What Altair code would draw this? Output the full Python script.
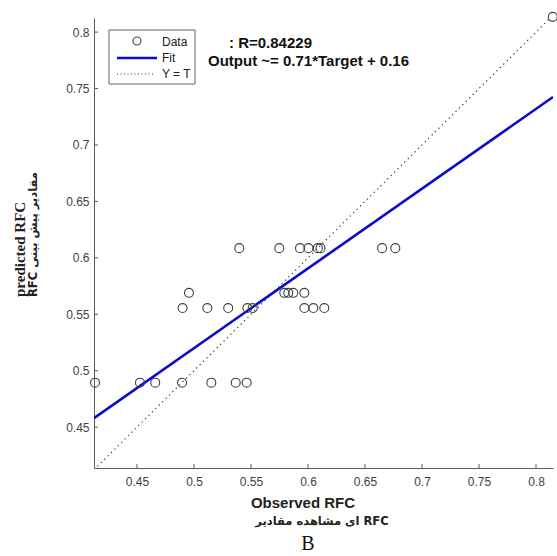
import altair as alt
import pandas as pd

# ---- data ----
observed = [0.5397, 0.5748, 0.5930, 0.6004, 0.6086, 0.6110, 0.6650, 0.6766,
            0.4956, 0.5792, 0.5827, 0.5871, 0.5968,
            0.4900, 0.5117, 0.5300, 0.5468, 0.5515, 0.5968, 0.6047, 0.6143,
            0.4132, 0.4526, 0.4660, 0.4895, 0.5152, 0.5366, 0.5462,
            0.8147]
predicted = [0.6086, 0.6086, 0.6086, 0.6086, 0.6086, 0.6086, 0.6086, 0.6086,
             0.5690, 0.5690, 0.5690, 0.5690, 0.5690,
             0.5555, 0.5555, 0.5555, 0.5555, 0.5555, 0.5555, 0.5555, 0.5555,
             0.4894, 0.4894, 0.4894, 0.4894, 0.4894, 0.4894, 0.4894,
             0.8135]
fit_x = [0.4123, 0.8149]
fit_y = [0.4580, 0.7425]
ident_x = [0.4123, 0.8149]
ident_y = [0.4123, 0.8149]
x_ticks = [0.45, 0.5, 0.55, 0.6, 0.65, 0.7, 0.75, 0.8]
y_ticks = [0.45, 0.5, 0.55, 0.6, 0.65, 0.7, 0.75, 0.8]
x_domain = [0.4123, 0.8149]
y_domain = [0.4138, 0.8125]
legend_labels = ["Data", "Fit", "Y = T"]
r_text = ": R=0.84229"
eq_text = "Output ~= 0.71*Target + 0.16"
x_title = "Observed RFC"
x_title_fa = "ای مشاهده مقادیر RFC"
y_title = "predicted RFC"
y_title_fa = "RFC مقادیر پیش بینی"
panel_label = "B"

W, H = 459, 450
FONT = "Liberation Sans"
AX = "#5a5a5a"
BLUE = "#0a0ac8"
PT = "#404040"

pts = pd.DataFrame({"x": observed, "y": predicted})
fit = pd.DataFrame({"x": fit_x, "y": fit_y})
ident = pd.DataFrame({"x": ident_x, "y": ident_y})
xt = pd.DataFrame({"x": x_ticks})
yt = pd.DataFrame({"y": y_ticks})
one = pd.DataFrame({"k": [0]})

xs = alt.Scale(domain=x_domain, nice=False, zero=False)
ys = alt.Scale(domain=y_domain, nice=False, zero=False)

x_axis = alt.Axis(values=x_ticks, format=".2~f", title=None, grid=False, ticks=False,
                  domainColor=AX, domainWidth=1, labelColor=PT, labelFont=FONT,
                  labelFontSize=12, labelPadding=8)
y_axis = alt.Axis(values=y_ticks, format=".2~f", title=None, grid=False, ticks=False,
                  domainColor=AX, domainWidth=1, labelColor=PT, labelFont=FONT,
                  labelFontSize=12, labelPadding=5)

X = alt.X("x:Q", scale=xs, axis=x_axis)
Y = alt.Y("y:Q", scale=ys, axis=y_axis)

ident_layer = alt.Chart(ident).mark_line(
    color="#303030", strokeWidth=1.2, strokeDash=[1.2, 3.6], clip=True
).encode(x=X, y=Y)

fit_layer = alt.Chart(fit).mark_line(color=BLUE, strokeWidth=2.6, clip=True).encode(x=X, y=Y)

pts_layer = alt.Chart(pts).mark_point(
    shape="circle", filled=False, size=80, color=PT, strokeWidth=1.1, opacity=1
).encode(x=X, y=Y)

xtick_layer = alt.Chart(xt).mark_rule(color=AX, strokeWidth=1).encode(
    x=X, y=alt.value(H), y2=alt.value(H - 4))
ytick_layer = alt.Chart(yt).mark_rule(color=AX, strokeWidth=1).encode(
    y=Y, x=alt.value(0), x2=alt.value(4))

# legend box
leg_box = alt.Chart(one).mark_rect(fill="white", stroke="#666666", strokeWidth=1).encode(
    x=alt.value(15), x2=alt.value(101), y=alt.value(12), y2=alt.value(66))
leg_pt = alt.Chart(one).mark_point(shape="circle", filled=False, size=64, color=PT,
                                   strokeWidth=1.1, opacity=1).encode(
    x=alt.value(43), y=alt.value(23))
leg_fit = alt.Chart(one).mark_rule(color=BLUE, strokeWidth=2.6).encode(
    x=alt.value(23), x2=alt.value(63), y=alt.value(40))
leg_id = alt.Chart(one).mark_rule(color="#303030", strokeWidth=1.1, strokeDash=[1, 2.5]).encode(
    x=alt.value(23), x2=alt.value(59), y=alt.value(56))


def txt(s, x, y, size=12, weight="normal", font=FONT, align="left", angle=0, color="#202020"):
    kw = dict(text=s, align=align, baseline="middle", font=font, fontSize=size,
              fontWeight=weight, color=color)
    if angle:
        kw["angle"] = angle
    return alt.Chart(one).mark_text(**kw).encode(x=alt.value(x), y=alt.value(y))


leg_texts = [txt(legend_labels[0], 68, 24), txt(legend_labels[1], 68, 40), txt(legend_labels[2], 68, 56)]

annot = [txt(r_text, 135, 25, size=15, weight="bold", color="#111111"),
         txt(eq_text, 114, 43, size=15, weight="bold", color="#111111")]

titles = [
    txt(x_title, 209, 485, size=15, weight="bold", align="center", color="#222222"),
    txt(x_title_fa, 228, 504, size=11.5, weight="bold", font="DejaVu Sans", align="center", color="#222222"),
    txt(panel_label, 214, 526, size=20, font="Liberation Serif", align="center", color="#111111"),
    txt(y_title, -74, 279, size=15, weight="bold", font="Liberation Serif", angle=270, color="#222222"),
    txt(y_title_fa, -60, 279, size=11.5, weight="bold", font="DejaVu Sans", angle=270, color="#222222"),
]

chart = alt.layer(
    ident_layer, fit_layer, pts_layer, xtick_layer, ytick_layer,
    leg_box, leg_pt, leg_fit, leg_id, *leg_texts, *annot, *titles
).properties(
    width=W, height=H,
    padding={"left": 94, "top": 18, "right": 4, "bottom": 88},
    autosize=alt.AutoSizeParams(type="none"),
    background="white",
).configure_view(stroke=None)

chart.save("out.html", embed_options={"renderer": "svg", "actions": False})
